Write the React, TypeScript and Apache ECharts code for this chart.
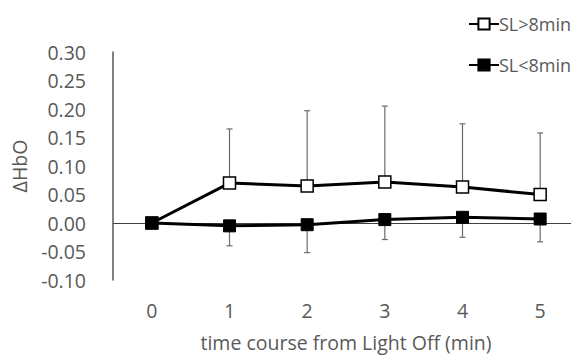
import React, { useEffect, useRef } from "react";
import * as echarts from "echarts";

const categories = ["0", "1", "2", "3", "4", "5"];
const slHighMean = [0.0, 0.07, 0.065, 0.072, 0.063, 0.05];
const slHighErr = [0, 0.095, 0.132, 0.133, 0.111, 0.108];
const slLowMean = [0.0, -0.005, -0.003, 0.006, 0.01, 0.007];
const slLowErr = [0, 0.035, 0.049, 0.035, 0.035, 0.04];
const yTicks = { min: -0.1, max: 0.3, interval: 0.05 };

const FONT = "'Open Sans', 'Noto Sans', sans-serif";
const TXT = "#595959";
const FS = 19.5;

function errSeries(name: string, means: number[], errs: number[], dir: number) {
  return {
    type: "custom",
    name,
    z: 1,
    silent: true,
    data: means.map((m, i) => [i, m, m + dir * errs[i], errs[i]]),
    renderItem: (params: any, api: any) => {
      if (api.value(3) === 0) return null;
      const p0 = api.coord([api.value(0), api.value(1)]);
      const p1 = api.coord([api.value(0), api.value(2)]);
      const cap = 3;
      const style = { stroke: "#6b6b6b", lineWidth: 1.2 };
      return {
        type: "group",
        children: [
          { type: "line", shape: { x1: p0[0], y1: p0[1], x2: p1[0], y2: p1[1] }, style },
          { type: "line", shape: { x1: p1[0] - cap, y1: p1[1], x2: p1[0] + cap, y2: p1[1] }, style },
        ],
      };
    },
  };
}

export default function App() {
  const ref = useRef<HTMLDivElement>(null);
  useEffect(() => {
    const chart = echarts.init(ref.current!, null, { renderer: "svg" });
    chart.setOption({
      animation: false,
      backgroundColor: "#ffffff",
      textStyle: { fontFamily: FONT },
      grid: { left: 113, top: 52, height: 228, width: 466, containLabel: false, outerBoundsMode: "none" },
      legend: {
        orient: "vertical",
        left: 463,
        top: 10,
        itemGap: 23,
        itemWidth: 30,
        itemHeight: 14,
        textStyle: { fontFamily: FONT, fontSize: 18, color: TXT, padding: [0, 0, 0, -5] },
        data: ["SL>8min", "SL<8min"],
      },
      xAxis: {
        type: "category",
        data: categories,
        boundaryGap: true,
        axisLine: { show: false },
        axisTick: { show: false },
        axisLabel: { fontFamily: FONT, fontSize: FS, color: TXT, margin: 20 },
        name: "time course from Light Off (min)",
        nameLocation: "middle",
        nameGap: 52,
        nameTextStyle: { fontFamily: FONT, fontSize: FS, color: TXT },
      },
      yAxis: {
        type: "value",
        min: yTicks.min,
        max: yTicks.max,
        interval: yTicks.interval,
        splitLine: { show: false },
        axisLine: { show: true, onZero: false, lineStyle: { color: "#595959", width: 1.5 } },
        axisTick: { show: false },
        axisLabel: {
          fontFamily: FONT,
          fontSize: FS,
          color: TXT,
          margin: 27,
          formatter: (v: number) => v.toFixed(2),
        },
        name: "ΔHbO",
        nameLocation: "middle",
        nameGap: 84,
        nameTextStyle: { fontFamily: FONT, fontSize: FS, color: TXT },
      },
      series: [
        errSeries("errHigh", slHighMean, slHighErr, 1),
        errSeries("errLow", slLowMean, slLowErr, -1),
        {
          type: "line",
          name: "SL>8min",
          z: 3,
          data: slHighMean,
          symbol: "rect",
          symbolSize: 12,
          lineStyle: { color: "#000", width: 3 },
          itemStyle: { color: "#fff", borderColor: "#000", borderWidth: 1.5 },
          markLine: {
            silent: true,
            symbol: "none",
            label: { show: false },
            lineStyle: { color: "#404040", width: 1, type: "solid" },
            data: [{ yAxis: 0 }],
            z: 0,
          },
        },
        {
          type: "line",
          name: "SL<8min",
          z: 4,
          data: slLowMean,
          symbol: "rect",
          symbolSize: 12,
          lineStyle: { color: "#000", width: 3 },
          itemStyle: { color: "#000", borderColor: "#000", borderWidth: 1 },
        },
      ],
    });
    return () => chart.dispose();
  }, []);
  return (
    <div
      ref={ref}
      style={{ position: "fixed", left: 0, top: 0, width: 571, height: 358, background: "#fff" }}
    />
  );
}
